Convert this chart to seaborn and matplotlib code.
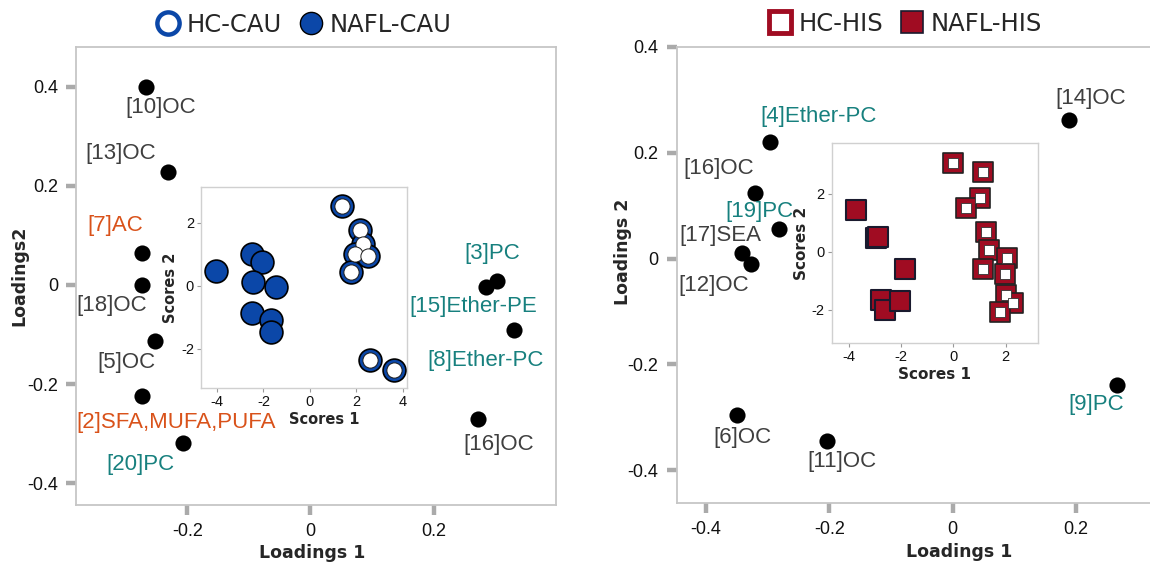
import numpy as np
import pandas as pd
import seaborn as sns
import matplotlib.pyplot as plt
from matplotlib.lines import Line2D

# ---- CAU loadings (left panel) ----
cau_labels = ["[10]OC", "[13]OC", "[7]AC", "[18]OC", "[5]OC", "[2]SFA,MUFA,PUFA",
              "[20]PC", "[3]PC", "[15]Ether-PE", "[8]Ether-PC", "[16]OC"]
cau_class = ["OC", "OC", "AC", "OC", "OC", "FA", "PC", "PC", "PC", "PC", "OC"]
cau_x = [-0.268, -0.232, -0.273, -0.273, -0.252, -0.273, -0.207, 0.303, 0.285, 0.330, 0.272]
cau_y = [0.400, 0.227, 0.064, 0.000, -0.114, -0.225, -0.318, 0.008, -0.005, -0.090, -0.271]
cau_lab_x = [-0.243, -0.309, -0.317, -0.323, -0.299, -0.219, -0.276, 0.296, 0.265, 0.284, 0.306]
cau_lab_y = [0.359, 0.266, 0.120, -0.041, -0.157, -0.278, -0.363, 0.064, -0.043, -0.153, -0.322]

# CAU scores (inset)
hc_cau_x = [1.40, 2.14, 2.28, 1.95, 2.48, 1.76, 2.60, 3.61]
hc_cau_y = [2.52, 1.77, 1.33, 1.01, 0.93, 0.43, -2.36, -2.67]
nafl_cau_x = [-4.04, -2.48, -2.05, -2.45, -1.44, -2.48, -1.69, -1.69]
nafl_cau_y = [0.45, 0.99, 0.75, 0.12, -0.06, -0.88, -1.09, -1.48]

# ---- HIS loadings (right panel) ----
his_labels = ["[14]OC", "[4]Ether-PC", "[16]OC", "[19]PC", "[17]SEA", "[12]OC",
              "[6]OC", "[11]OC", "[9]PC"]
his_class = ["OC", "PC", "OC", "PC", "OC", "OC", "OC", "OC", "PC"]
his_x = [0.189, -0.296, -0.320, -0.282, -0.342, -0.327, -0.350, -0.204, 0.267]
his_y = [0.261, 0.220, 0.124, 0.056, 0.010, -0.010, -0.295, -0.344, -0.239]
his_lab_x = [0.224, -0.218, -0.380, -0.314, -0.377, -0.387, -0.341, -0.179, 0.233]
his_lab_y = [0.302, 0.269, 0.171, 0.089, 0.044, -0.051, -0.338, -0.383, -0.276]

# HIS scores (inset)
hc_his_x = [-0.01, 1.12, 1.01, 0.50, 1.24, 1.37, 2.05, 1.15, 1.99, 2.01, 2.27, 1.78]
hc_his_y = [3.06, 2.77, 1.85, 1.50, 0.69, 0.06, -0.21, -0.58, -0.77, -1.50, -1.76, -2.08]
nafl_his_x = [-3.72, -2.95, -2.86, -1.86, -2.76, -2.60, -2.03]
nafl_his_y = [1.44, 0.46, 0.50, -0.61, -1.65, -2.02, -1.70]

main_ticks = [-0.4, -0.2, 0, 0.2, 0.4]
main_tick_labels = ["-0.4", "-0.2", "0", "0.2", "0.4"]
inset_ticks = [-4, -2, 0, 2, 4]
inset_tick_labels = ["-4", "-2", "0", "2", "4"]

BLUE = "#0b47a8"
RED = "#a00c22"
class_colors = {"OC": "#3f3f3f", "AC": "#d9521a", "FA": "#d9521a", "PC": "#17807e"}
LAB_FONT = "Liberation Sans"

sns.set_theme(style="white")
plt.rcParams['font.family'] = ['DejaVu Sans']
plt.rcParams['axes.unicode_minus'] = False

fig = plt.figure(figsize=(11.5, 5.64), dpi=100)
ax1 = fig.add_axes([0.0661, 0.1046, 0.4174, 0.812])
ax1_in = fig.add_axes([0.1748, 0.312, 0.1791, 0.356])
ax2 = fig.add_axes([0.5883, 0.108, 0.4117, 0.809])
ax2_in = fig.add_axes([0.7232, 0.391, 0.1792, 0.356])


def style_main(ax):
    for sp in ax.spines.values():
        sp.set_color("#c6c6c6")
        sp.set_linewidth(1.3)
    ax.tick_params(bottom=True, left=True, length=7, width=3.2, color="#aaaaaa",
                   pad=6, labelcolor="#111111")


def style_inset(ax):
    for sp in ax.spines.values():
        sp.set_color("#d0d0d0")
        sp.set_linewidth(1.0)
    ax.tick_params(bottom=True, left=True, length=3, width=0.8, color="#999999",
                   pad=2, labelcolor="#111111")


def loadings(ax, xs, ys, labels, classes, lx, ly):
    df = pd.DataFrame({"x": xs, "y": ys})
    sns.scatterplot(data=df, x="x", y="y", ax=ax, color="black", s=135,
                    edgecolor="black", linewidth=0, zorder=3)
    for t, c, x, y in zip(labels, classes, lx, ly):
        ax.text(x, y, t, color=class_colors[c], fontsize=16, family=LAB_FONT,
                ha="center", va="center", zorder=4)


# ---------------- left panel ----------------
loadings(ax1, cau_x, cau_y, cau_labels, cau_class, cau_lab_x, cau_lab_y)
ax1.set(xlim=(-0.381, 0.399), ylim=(-0.444, 0.48))
ax1.set_xticks([-0.2, 0, 0.2], ["-0.2", "0", "0.2"], family=LAB_FONT, fontsize=13)
ax1.set_yticks(main_ticks, main_tick_labels, family=LAB_FONT, fontsize=13)
style_main(ax1)
ax1.set_xlabel("Loadings 1", fontweight="bold", fontsize=12.5)
ax1.set_ylabel("Loadings2", fontweight="bold", fontsize=12.5)
ax1.xaxis.set_label_coords(0.491, -0.085)
ax1.yaxis.set_label_coords(-0.10, 0.5)

sns.scatterplot(x=nafl_cau_x, y=nafl_cau_y, ax=ax1_in, s=270, color=BLUE,
                edgecolor="black", linewidth=1.2, zorder=3)
sns.scatterplot(x=hc_cau_x, y=hc_cau_y, ax=ax1_in, s=270, color=BLUE,
                edgecolor="black", linewidth=1.2, zorder=3)
sns.scatterplot(x=hc_cau_x, y=hc_cau_y, ax=ax1_in, s=120, color="white",
                edgecolor="#1a1a1a", linewidth=0.7, zorder=4)
ax1_in.set(xlim=(-4.69, 4.18), ylim=(-3.25, 3.12))
ax1_in.set_xticks(inset_ticks, inset_tick_labels, family=LAB_FONT, fontsize=10.5)
ax1_in.set_yticks([-2, 0, 2], ["-2", "0", "2"], family=LAB_FONT, fontsize=10.5)
style_inset(ax1_in)
ax1_in.set_xlabel("Scores 1", fontweight="bold", fontsize=10.5, labelpad=2)
ax1_in.set_ylabel("Scores 2", fontweight="bold", fontsize=10.5, labelpad=2)
ax1_in.xaxis.label.set_x(0.6)

h1 = [Line2D([], [], ls="", marker="o", ms=16, mfc="white", mec=BLUE, mew=3.2),
      Line2D([], [], ls="", marker="o", ms=16, mfc=BLUE, mec="black", mew=1)]
fig.legend(h1, ["HC-CAU", "NAFL-CAU"], loc="center", bbox_to_anchor=(0.264, 0.956),
           ncol=2, frameon=False, fontsize=17.5, handletextpad=0.25,
           columnspacing=0.7, handlelength=1.0)

# ---------------- right panel ----------------
loadings(ax2, his_x, his_y, his_labels, his_class, his_lab_x, his_lab_y)
ax2.set(xlim=(-0.448, 0.32), ylim=(-0.462, 0.4))
ax2.set_xticks([-0.4, -0.2, 0, 0.2], ["-0.4", "-0.2", "0", "0.2"], family=LAB_FONT, fontsize=13)
ax2.set_yticks(main_ticks, main_tick_labels, family=LAB_FONT, fontsize=13)
style_main(ax2)
ax2.spines["right"].set_visible(False)
ax2.set_xlabel("Loadings 1", fontweight="bold", fontsize=12.5)
ax2.set_ylabel("Loadings 2", fontweight="bold", fontsize=12.5)
ax2.xaxis.set_label_coords(0.597, -0.088)
ax2.yaxis.set_label_coords(-0.094, 0.55)

sns.scatterplot(x=nafl_his_x, y=nafl_his_y, ax=ax2_in, s=215, marker="s", color=RED,
                edgecolor="#1a1a2e", linewidth=1.5, zorder=3)
sns.scatterplot(x=hc_his_x, y=hc_his_y, ax=ax2_in, s=215, marker="s", color=RED,
                edgecolor="#222222", linewidth=1.2, zorder=3)
sns.scatterplot(x=hc_his_x, y=hc_his_y, ax=ax2_in, s=62, marker="s", color="white",
                edgecolor="#333333", linewidth=0.6, zorder=4)
ax2_in.set(xlim=(-4.65, 3.23), ylim=(-3.17, 3.77))
ax2_in.set_xticks([-4, -2, 0, 2], ["-4", "-2", "0", "2"], family=LAB_FONT, fontsize=10.5)
ax2_in.set_yticks([-2, 0, 2], ["-2", "0", "2"], family=LAB_FONT, fontsize=10.5)
style_inset(ax2_in)
ax2_in.set_xlabel("Scores 1", fontweight="bold", fontsize=11, labelpad=2)
ax2_in.set_ylabel("Scores 2", fontweight="bold", fontsize=11, labelpad=2)

h2 = [Line2D([], [], ls="", marker="s", ms=16, mfc="white", mec=RED, mew=3.5),
      Line2D([], [], ls="", marker="s", ms=16, mfc=RED, mec="#1a1a2e", mew=1.2)]
fig.legend(h2, ["HC-HIS", "NAFL-HIS"], loc="center", bbox_to_anchor=(0.787, 0.958),
           ncol=2, frameon=False, fontsize=17.5, handletextpad=0.25,
           columnspacing=0.7, handlelength=1.0)

fig.savefig("out.png", dpi=100)
